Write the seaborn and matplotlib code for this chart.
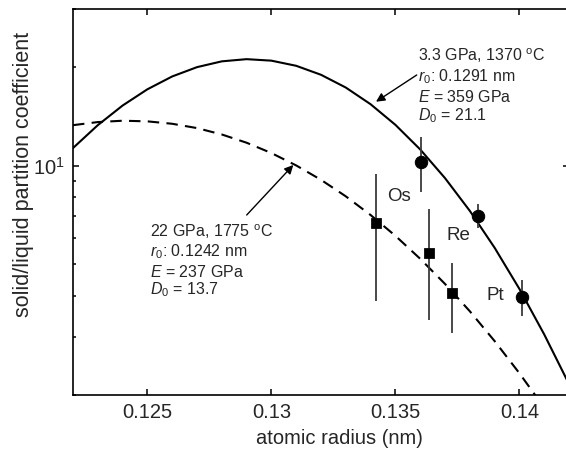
import matplotlib
matplotlib.use("Agg")
import matplotlib.pyplot as plt
import matplotlib.ticker as mticker
import seaborn as sns
import pandas as pd

# ---- data ----
r_fit = [0.122, 0.123, 0.124, 0.125, 0.126, 0.127, 0.128, 0.129, 0.130, 0.131, 0.132,
         0.133, 0.134, 0.135, 0.136, 0.137, 0.138, 0.139, 0.140, 0.141, 0.142]
D_low_p = [11.31, 13.28, 15.24, 17.08, 18.69, 19.95, 20.78, 21.10, 20.88, 20.14, 18.91,
           17.29, 15.38, 13.31, 11.20, 9.16, 7.28, 5.62, 4.21, 3.06, 2.16]
D_high_p = [13.28, 13.57, 13.70, 13.64, 13.41, 13.01, 12.44, 11.74, 10.92, 10.01, 9.05,
            8.06, 7.07, 6.11, 5.20, 4.36, 3.60, 2.92, 2.33, 1.83, 1.45]

circ_r = [0.13602, 0.13835, 0.14010]
circ_D = [10.23, 7.00, 3.97]
circ_lo = [8.30, 6.47, 3.47]
circ_hi = [12.24, 7.62, 4.48]

sq_r = [0.13421, 0.13637, 0.13727]
sq_D = [6.68, 5.40, 4.09]
sq_lo = [3.88, 3.39, 3.10]
sq_hi = [9.44, 7.39, 5.04]

elements = ["Os", "Re", "Pt"]

label_low = ["3.3 GPa, 1370 $^{\\mathrm{o}}$C", "$r_0$: 0.1291 nm", "$E$ = 359 GPa", "$D_0$ = 21.1"]
label_high = ["22 GPa, 1775 $^{\\mathrm{o}}$C", "$r_0$: 0.1242 nm", "$E$ = 237 GPa", "$D_0$ = 13.7"]

# ---- style ----
sns.set_theme(style="ticks")
plt.rcParams["font.family"] = ["Liberation Sans", "DejaVu Sans"]
plt.rcParams["mathtext.fontset"] = "custom"
plt.rcParams["mathtext.rm"] = "Liberation Sans"
plt.rcParams["mathtext.it"] = "Liberation Sans:italic"
plt.rcParams["mathtext.bf"] = "Liberation Sans:bold"

W, H = 566, 457
fig = plt.figure(figsize=(W / 100, H / 100), dpi=100)
ax = fig.add_axes([73 / W, 1 - 395 / H, (569 - 73) / W, (395 - 9) / H])

fit = pd.DataFrame({"r": r_fit, "low": D_low_p, "high": D_high_p})
sns.lineplot(data=fit, x="r", y="low", ax=ax, color="black", lw=1.5,
             sort=False, estimator=None)
sns.lineplot(data=fit, x="r", y="high", ax=ax, color="black", lw=1.5,
             sort=False, estimator=None, linestyle=(0, (5.5, 3.5)))

# error bars
ax.vlines(circ_r, circ_lo, circ_hi, color="#3a3a3a", lw=1.3, zorder=3)
ax.vlines(sq_r, sq_lo, sq_hi, color="#3a3a3a", lw=1.3, zorder=3)

pts_c = pd.DataFrame({"r": circ_r, "D": circ_D})
pts_s = pd.DataFrame({"r": sq_r, "D": sq_D})
sns.scatterplot(data=pts_c, x="r", y="D", ax=ax, marker="o", s=80, color="black",
                edgecolor="black", zorder=4)
sns.scatterplot(data=pts_s, x="r", y="D", ax=ax, marker="s", s=48, color="black",
                edgecolor="black", zorder=4)

ax.set_yscale("log")
ax.set_xlim(0.122, 0.142)
ax.set_ylim(2, 30)

ax.xaxis.set_major_locator(mticker.FixedLocator([0.125, 0.13, 0.135, 0.14]))
ax.xaxis.set_major_formatter(mticker.FixedFormatter(["0.125", "0.13", "0.135", "0.14"]))
ax.yaxis.set_major_locator(mticker.LogLocator(base=10, numticks=5))
ax.yaxis.set_minor_locator(mticker.LogLocator(base=10, subs=range(2, 10), numticks=20))
ax.yaxis.set_minor_formatter(mticker.NullFormatter())

ax.tick_params(which="both", direction="in", top=True, right=True, color="black",
               width=1.1)
ax.tick_params(which="major", length=4.5, labelsize=14.5, pad=6)
ax.tick_params(which="minor", length=2.5)
for s in ax.spines.values():
    s.set_linewidth(1.2)
    s.set_color("black")

ax.set_xlabel("atomic radius (nm)", fontsize=14.5)
ax.set_ylabel("solid/liquid partition coefficient", fontsize=15.5)
ax.xaxis.set_label_coords((339 - 73) / 496, (395 - 429) / 386)
ax.yaxis.set_label_coords((34 - 73) / 496, (395 - 174) / 386)

# annotation text blocks
for txt, yy in zip(label_low, [56, 76.7, 96.7, 116]):
    fig.text(418 / W, 1 - yy / H, txt, ha="left", va="center", fontsize=11.5)
for txt, yy in zip(label_high, [231.7, 251.7, 271.7, 290]):
    fig.text(150.5 / W, 1 - yy / H, txt, ha="left", va="center", fontsize=11.5)

arrow = dict(arrowstyle="-|>", color="black", lw=1.0, mutation_scale=13,
             shrinkA=0, shrinkB=0)
ax.annotate("", xy=(376 / W, 1 - 101.7 / H), xytext=(416.7 / W, 1 - 75 / H),
            xycoords="figure fraction", textcoords="figure fraction", arrowprops=arrow)
ax.annotate("", xy=(293.3 / W, 1 - 165 / H), xytext=(246.7 / W, 1 - 215 / H),
            xycoords="figure fraction", textcoords="figure fraction", arrowprops=arrow)

for name, (px, py) in zip(elements, [(399.3, 196.7), (458.3, 235), (495, 295)]):
    fig.text(px / W, 1 - py / H, name, ha="center", va="center", fontsize=13.5)

fig.savefig("out.png", dpi=100)
